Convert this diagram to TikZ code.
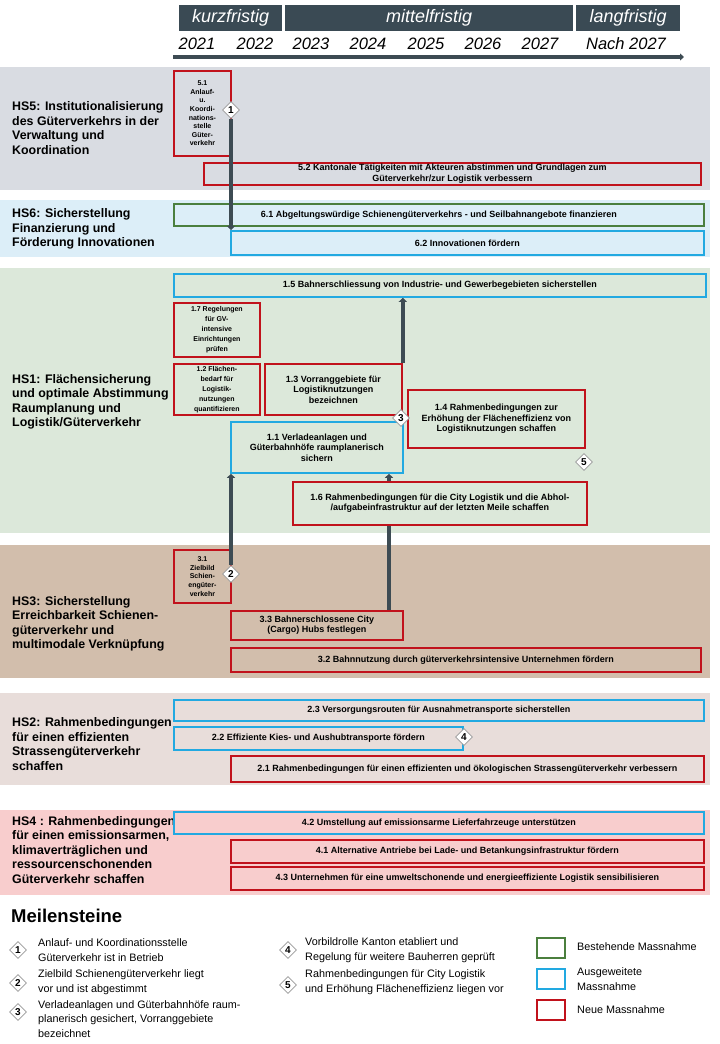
\documentclass[tikz,border=0pt]{standalone}
\usepackage{fontspec}
\setmainfont{Liberation Sans}
\usetikzlibrary{shapes.geometric, arrows.meta}

% Farben
\definecolor{phasegrau}{HTML}{3A4A54}
\definecolor{pfeilgrau}{HTML}{3D4B53}
\definecolor{neurot}{HTML}{C1121C}
\definecolor{ausblau}{HTML}{22A9E1}
\definecolor{bestgruen}{HTML}{4B7F3E}
\definecolor{hsfuenf}{HTML}{D9DCE2}
\definecolor{hssechs}{HTML}{DCEEF8}
\definecolor{hseins}{HTML}{DCE8DA}
\definecolor{hsdrei}{HTML}{D2BEAC}
\definecolor{hszwei}{HTML}{E8DDDA}
\definecolor{hsvier}{HTML}{F8CDCD}

\tikzset{every picture/.style={x=1pt,y=-1pt}}
\tikzset{
    massnahme/.style={draw, line width=1.8pt, anchor=north west, inner sep=0.5pt,
        align=center, font=\fontsize{9}{10.5}\selectfont\bfseries},
    klein/.style={font=\fontsize{7}{10}\selectfont\bfseries},
    eng/.style={font=\fontsize{7}{8.6}\selectfont\bfseries},
    neu/.style={massnahme, draw=neurot},
    ausgeweitet/.style={massnahme, draw=ausblau},
    bestehend/.style={massnahme, draw=bestgruen},
    meilenstein/.style={diamond, aspect=1, draw=gray!80, fill=white, line width=0.6pt,
        inner sep=0.5pt, minimum size=17pt, font=\fontsize{10}{10}\selectfont\bfseries},
    verlauf/.style={draw=pfeilgrau, line width=4.5pt, -{Triangle[length=4pt, width=8pt]}},
    hstitel/.style={anchor=west, align=left, inner sep=0pt,
        font=\fontsize{12.4}{14.5}\selectfont\bfseries},
    phase/.style={fill=phasegrau, text=white, anchor=north west, minimum height=26pt,
        inner sep=0pt, font=\fontsize{18}{18}\selectfont\itshape},
    jahr/.style={font=\fontsize{16.5}{16.5}\selectfont\itshape, inner sep=0pt},
    legende/.style={anchor=west, align=left, inner sep=0pt, font=\fontsize{10.8}{14.5}\selectfont},
    legbox/.style={draw, line width=1.8pt, minimum width=28pt, minimum height=20pt, inner sep=0pt},
}

\begin{document}
\begin{tikzpicture}

    % Seite festlegen
    \fill[white] (0,0) rectangle (720,1044);
    \useasboundingbox (0,0) rectangle (720,1044);

    % Phasen
    \node[phase, minimum width=103pt] (kurz) at (179,5) {kurzfristig};
    \node[phase, minimum width=288pt] (mittel) at (285,5) {mittelfristig};
    \node[phase, minimum width=104pt] (lang) at (576,5) {langfristig};

    % Jahre
    \foreach \jahr/\xpos in {2021/197, 2022/255, 2023/311, 2024/368, 2025/426, 2026/483, 2027/540} {
        \node[jahr] (j\jahr) at (\xpos,44) {\jahr};
    }
    \node[jahr] (jnach) at (626,44) {Nach 2027};

    % Zeitachse
    \draw[pfeilgrau, line width=4pt, -{Triangle[length=4pt, width=7pt]}] (173,57) -- (684,57);

    % Handlungsschwerpunkte (Hintergrund)
    \fill[hsfuenf] (0,67) rectangle (710,190);
    \fill[hssechs] (0,200) rectangle (710,257);
    \fill[hseins] (0,268) rectangle (710,533);
    \fill[hsdrei] (0,545) rectangle (710,678);
    \fill[hszwei] (0,693) rectangle (710,785);
    \fill[hsvier] (0,810) rectangle (710,895);

    \node[hstitel] (hs5) at (12,128) {HS5: Institutionalisierung\\des Güterverkehrs in der\\Verwaltung und\\Koordination};
    \node[hstitel] (hs6) at (12,229) {HS6: Sicherstellung\\Finanzierung und\\Förderung Innovationen};
    \node[hstitel] (hs1) at (12,402) {HS1: Flächensicherung\\und optimale Abstimmung\\Raumplanung und\\Logistik/Güterverkehr};
    \node[hstitel] (hs3) at (12,624) {HS3: Sicherstellung\\Erreichbarkeit Schienen-\\güterverkehr und\\multimodale Verknüpfung};
    \node[hstitel] (hs2) at (12,744) {HS2: Rahmenbedingungen\\für einen effizienten\\Strassengüterverkehr\\schaffen};
    \node[hstitel] (hs4) at (12,850) {HS4 : Rahmenbedingungen\\für einen emissionsarmen,\\klimaverträglichen und\\ressourcenschonenden\\Güterverkehr schaffen};

    % HS5
    \node[neu, eng, minimum width=57pt, minimum height=85pt] (b51) at (173,70)
        {5.1\\Anlauf-\\u.\\Koordi-\\nations-\\stelle\\Güter-\\verkehr};
    \node[neu, minimum width=497pt, minimum height=22pt] (b52) at (203,162)
        {5.2 Kantonale Tätigkeiten mit Akteuren abstimmen und Grundlagen zum\\Güterverkehr/zur Logistik verbessern};

    % HS6
    \node[bestehend, minimum width=530pt, minimum height=22pt] (b61) at (173,203)
        {6.1 Abgeltungswürdige Schienengüterverkehrs - und Seilbahnangebote finanzieren};
    \node[ausgeweitet, minimum width=473pt, minimum height=24pt] (b62) at (230,230)
        {6.2 Innovationen fördern};

    % HS1
    \node[ausgeweitet, minimum width=532pt, minimum height=23pt] (b15) at (173,273)
        {1.5 Bahnerschliessung von Industrie- und Gewerbegebieten sicherstellen};
    \node[neu, klein, minimum width=86pt, minimum height=54pt] (b17) at (173,302)
        {1.7 Regelungen\\für GV-\\intensive\\Einrichtungen\\prüfen};
    \node[neu, klein, minimum width=86pt, minimum height=51pt] (b12) at (173,363)
        {1.2 Flächen-\\bedarf für\\Logistik-\\nutzungen\\quantifizieren};
    \node[neu, minimum width=137pt, minimum height=51pt] (b13) at (264,363)
        {1.3 Vorranggebiete für\\Logistiknutzungen\\bezeichnen};
    \node[neu, minimum width=177pt, minimum height=58pt] (b14) at (407,389)
        {1.4 Rahmenbedingungen zur\\Erhöhung der Flächeneffizienz von\\Logistiknutzungen schaffen};
    \node[ausgeweitet, minimum width=172pt, minimum height=51pt] (b11) at (230,421)
        {1.1 Verladeanlagen und\\Güterbahnhöfe raumplanerisch\\sichern};

    % HS3
    \node[neu, eng, minimum width=57pt, minimum height=53pt] (b31) at (173,549)
        {3.1\\Zielbild\\Schien-\\engüter-\\verkehr};
    \node[neu, minimum width=172pt, minimum height=29pt] (b33) at (230,610)
        {3.3 Bahnerschlossene City\\(Cargo) Hubs festlegen};
    \node[neu, minimum width=470pt, minimum height=24pt] (b32) at (230,647)
        {3.2 Bahnnutzung durch güterverkehrsintensive Unternehmen fördern};

    % 3.3 -> 1.1 (hinter 1.6)
    \draw[verlauf] (b33.north -| 389,0) -- (b11.south -| 389,0);
    \node[neu, fill=hseins, minimum width=294pt, minimum height=43pt] (b16) at (292,481)
        {1.6 Rahmenbedingungen für die City Logistik und die Abhol-\\/aufgabeinfrastruktur auf der letzten Meile schaffen};

    % HS2
    \node[ausgeweitet, minimum width=530pt, minimum height=21pt] (b23) at (173,699)
        {2.3 Versorgungsrouten für Ausnahmetransporte sicherstellen};
    \node[ausgeweitet, minimum width=289pt, minimum height=23pt] (b22) at (173,726)
        {2.2 Effiziente Kies- und Aushubtransporte fördern};
    \node[neu, minimum width=473pt, minimum height=26pt] (b21) at (230,755)
        {2.1 Rahmenbedingungen für einen effizienten und ökologischen Strassengüterverkehr verbessern};

    % HS4
    \node[ausgeweitet, minimum width=530pt, minimum height=22pt] (b42) at (173,811)
        {4.2 Umstellung auf emissionsarme Lieferfahrzeuge unterstützen};
    \node[neu, minimum width=473pt, minimum height=23pt] (b41) at (230,839)
        {4.1 Alternative Antriebe bei Lade- und Betankungsinfrastruktur fördern};
    \node[neu, minimum width=473pt, minimum height=23pt] (b43) at (230,866)
        {4.3 Unternehmen für eine umweltschonende und energieeffiziente Logistik sensibilisieren};

    % Meilensteine
    \node[meilenstein] (m1) at (231,110) {1};
    \node[meilenstein] (m2) at (231,574) {2};
    \node[meilenstein] (m3) at (401,418) {3};
    \node[meilenstein] (m4) at (464,737) {4};
    \node[meilenstein] (m5) at (584,462) {5};

    % Verbindungen
    \draw[verlauf] (m1.south) -- (m1 |- b62.north);
    \draw[verlauf] (m2.north) -- (m2 |- b11.south);
    \draw[verlauf] (b13.north east) -- (b13.north east |- b15.south);

    % Legende
    \node[anchor=west, inner sep=0pt, font=\fontsize{18.5}{18.5}\selectfont\bfseries] (meilensteine) at (11,916) {Meilensteine};

    \node[meilenstein] (l1) at (18,950) {1};
    \node[legende] (t1) at (38,950) {Anlauf- und Koordinationsstelle\\Güterverkehr ist in Betrieb};
    \node[meilenstein] (l2) at (18,983) {2};
    \node[legende] (t2) at (38,982) {Zielbild Schienengüterverkehr liegt\\vor und ist abgestimmt};
    \node[meilenstein] (l3) at (18,1012) {3};
    \node[legende] (t3) at (38,1019) {Verladeanlagen und Güterbahnhöfe raum-\\planerisch gesichert, Vorranggebiete\\bezeichnet};
    \node[meilenstein] (l4) at (288,950) {4};
    \node[legende] (t4) at (305,950) {Vorbildrolle Kanton etabliert und\\Regelung für weitere Bauherren geprüft};
    \node[meilenstein] (l5) at (288,985) {5};
    \node[legende] (t5) at (305,982) {Rahmenbedingungen für City Logistik\\und Erhöhung Flächeneffizienz liegen vor};

    \node[legbox, draw=bestgruen] (lgruen) at (551,948) {};
    \node[legende] (tgruen) at (577,947) {Bestehende Massnahme};
    \node[legbox, draw=ausblau] (lblau) at (551,979) {};
    \node[legende] (tblau) at (577,979) {Ausgeweitete\\Massnahme};
    \node[legbox, draw=neurot] (lrot) at (551,1010) {};
    \node[legende] (trot) at (577,1010) {Neue Massnahme};

\end{tikzpicture}
\end{document}
